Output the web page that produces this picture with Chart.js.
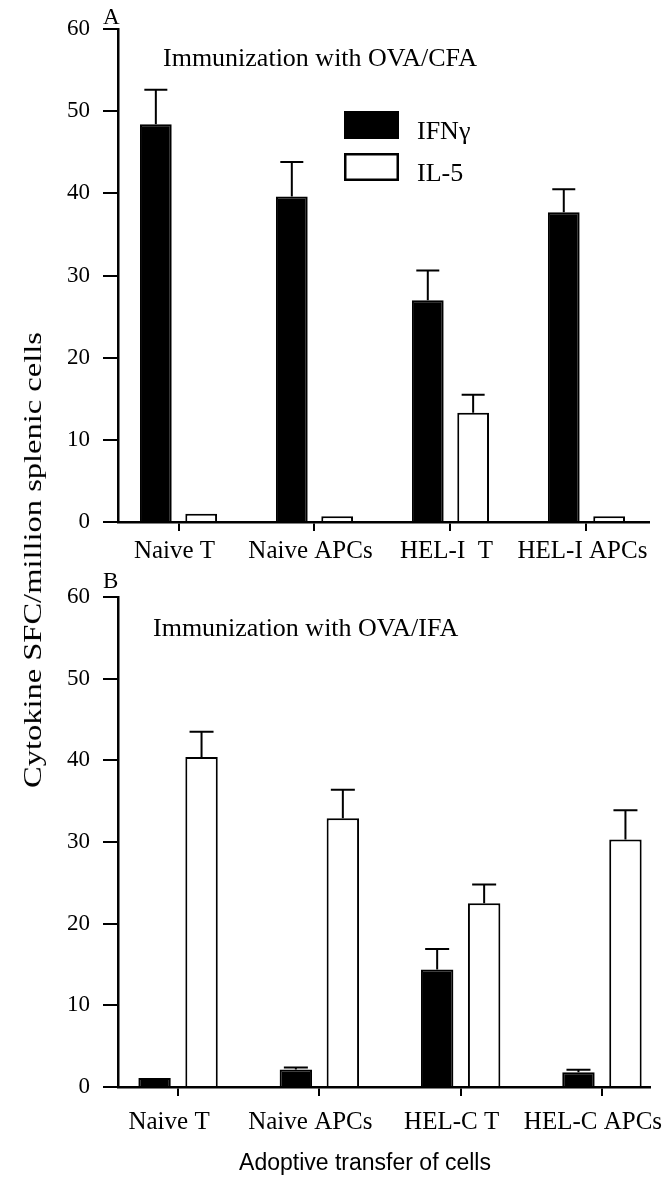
<!DOCTYPE html>
<html>
<head>
<meta charset="utf-8">
<script src="https://cdn.jsdelivr.net/npm/chart.js@4.4.1/dist/chart.umd.min.js"></script>
<style>
html, body { margin: 0; padding: 0; background: #fff; }
#wrap { position: relative; width: 665px; height: 1179px; overflow: hidden; background: #fff; }
canvas { position: absolute; left: 0; }
#ytitle {
  position: absolute; left: 33px; top: 560px;
  font-family: "Liberation Serif", "Times New Roman", serif; font-size: 26px;
  white-space: nowrap; color: #000; line-height: 1;
  transform: translate(-50%, -50%) rotate(-90deg) scaleX(1.25);
}
</style>
</head>
<body>
<div id="wrap">
  <canvas id="chartA" width="665" height="570" style="top:0px"></canvas>
  <canvas id="chartB" width="665" height="609" style="top:570px"></canvas>
  <div id="ytitle">Cytokine SFC/million splenic cells</div>
</div>
<script>
// ---------- data ----------
const seriesNames = ['IFN\u03b3', 'IL-5'];
const yTickValues = [0, 10, 20, 30, 40, 50, 60];

const categoriesA = ['Naive T', 'Naive APCs', 'HEL-I  T', 'HEL-I APCs'];
const ifnA    = [48.4, 39.6, 27.0, 37.7];
const ifnAErr = [4.2, 4.2, 3.6, 2.8];
const il5A    = [1.0, 0.7, 13.3, 0.7];
const il5AErr = [0, 0, 2.2, 0];

const categoriesB = ['Naive T', 'Naive APCs', 'HEL-C T', 'HEL-C APCs'];
const ifnB    = [1.1, 2.15, 14.4, 1.8];
const ifnBErr = [0, 0.25, 2.5, 0.3];
const il5B    = [40.4, 32.9, 22.5, 30.3];
const il5BErr = [3.1, 3.5, 2.3, 3.6];

const titleA = 'Immunization with OVA/CFA';
const titleB = 'Immunization with OVA/IFA';
const xAxisTitle = 'Adoptive transfer of cells';

// ---------- helpers ----------
const SERIF = '"Liberation Serif", "Times New Roman", serif';
const SANS = '"Liberation Sans", Arial, sans-serif';

function points(values) { return values.map((v, i) => ({ x: i + 0.5, y: v })); }

function decorPlugin(opts) {
  return {
    id: 'decor' + opts.letter,
    afterDatasetsDraw(chart) {
      const ctx = chart.ctx;
      const ys = chart.scales.y;
      // error bars (upper only)
      chart.data.datasets.forEach((ds, di) => {
        const meta = chart.getDatasetMeta(di);
        meta.data.forEach((bar, i) => {
          const err = ds.errors[i];
          if (!err) return;
          const v = ds.data[i].y;
          const yTop = ys.getPixelForValue(v + err);
          const yBar = ys.getPixelForValue(v);
          ctx.save();
          ctx.strokeStyle = '#000';
          ctx.lineWidth = 2;
          ctx.beginPath();
          ctx.moveTo(bar.x, yBar);
          ctx.lineTo(bar.x, yTop);
          ctx.moveTo(bar.x - opts.capW / 2, yTop);
          ctx.lineTo(bar.x + opts.capW / 2, yTop);
          ctx.stroke();
          ctx.restore();
        });
      });
      ctx.save();
      ctx.fillStyle = '#000';
      ctx.textBaseline = 'alphabetic';
      ctx.textAlign = 'left';
      // panel letter
      ctx.font = '23px ' + SERIF;
      ctx.fillText(opts.letter, opts.letterX, opts.letterY);
      // subtitle
      ctx.font = '26px ' + SERIF;
      ctx.fillText(opts.subtitle, opts.subX, opts.subY);
      // legend
      if (opts.legend) {
        const L = opts.legend;
        chart.data.datasets.forEach((ds, di) => {
          const top = L.y + di * L.step;
          ctx.fillStyle = ds.backgroundColor;
          ctx.fillRect(L.x, top, L.w, L.h);
          ctx.strokeStyle = '#000';
          ctx.lineWidth = 2.5;
          ctx.strokeRect(L.x + 1.25, top + 1.25, L.w - 2.5, L.h - 2.5);
          ctx.fillStyle = '#000';
          ctx.font = '26px ' + SERIF;
          ctx.fillText(ds.label, L.textX, top + L.h);
        });
      }
      // x axis title
      if (opts.xTitle) {
        ctx.font = '23px ' + SANS;
        ctx.textAlign = 'center';
        ctx.fillText(opts.xTitle, opts.xTitleX, opts.xTitleY);
      }
      ctx.restore();
    }
  };
}

function makeChart(canvasId, p) {
  const boundaries = p.categories.slice(1).map((_, i) => i + 1);
  const centers = p.categories.map((_, i) => i + 0.5);
  return new Chart(document.getElementById(canvasId), {
    type: 'bar',
    data: {
      datasets: [
        { label: seriesNames[0], data: points(p.ifn), errors: p.ifnErr,
          backgroundColor: '#000000', borderColor: '#000000', borderWidth: 2,
          xAxisID: 'x', yAxisID: 'y' },
        { label: seriesNames[1], data: points(p.il5), errors: p.il5Err,
          backgroundColor: '#ffffff', borderColor: '#000000', borderWidth: 2,
          xAxisID: 'x', yAxisID: 'y' }
      ]
    },
    options: {
      responsive: false,
      animation: false,
      devicePixelRatio: 1,
      events: [],
      categoryPercentage: p.catPct,
      barPercentage: p.barPct,
      layout: { padding: { left: 0, right: p.padRight, top: p.padTop, bottom: 0 } },
      plugins: { legend: { display: false }, tooltip: { enabled: false }, title: { display: false } },
      scales: {
        x: {
          type: 'linear', position: 'bottom', min: p.xMin, max: p.xMax, offset: false, weight: 0,
          afterBuildTicks: s => { s.ticks = boundaries.map(v => ({ value: v })); },
          ticks: { display: false },
          grid: { drawOnChartArea: false, drawTicks: true, tickLength: 9, color: '#000', lineWidth: 2 },
          border: { color: '#000', width: 2.5 },
          afterFit: s => { s.height = 12; s.paddingLeft = 0; s.paddingRight = 0; }
        },
        x2: {
          type: 'linear', position: 'bottom', min: p.xMin, max: p.xMax, offset: false, weight: 1,
          afterBuildTicks: s => { s.ticks = centers.map(v => ({ value: v })); },
          ticks: {
            autoSkip: false, maxRotation: 0, minRotation: 0, padding: p.labelPad,
            labelOffset: p.labelOffset, color: '#000',
            font: { family: SERIF, size: 25 },
            callback: (v, idx) => p.categories[idx]
          },
          grid: { display: false, drawTicks: false },
          border: { display: false },
          afterFit: s => { s.height = p.labelBand; s.paddingLeft = 0; s.paddingRight = 0; }
        },
        y: {
          type: 'linear', min: 0, max: 60,
          afterBuildTicks: s => { s.ticks = yTickValues.map(v => ({ value: v })); },
          ticks: { color: '#000', font: { family: SERIF, size: 23 }, padding: 13 },
          grid: { drawOnChartArea: false, drawTicks: true, tickLength: 15, color: '#000', lineWidth: 2 },
          border: { color: '#000', width: 2.5 },
          afterFit: s => { s.width = 118; s.paddingTop = 0; s.paddingBottom = 0; }
        }
      }
    },
    plugins: [decorPlugin(p.decor)]
  });
}

makeChart('chartA', {
  categories: categoriesA, ifn: ifnA, ifnErr: ifnAErr, il5: il5A, il5Err: il5AErr,
  xMin: 0.055, xMax: 3.96, catPct: 0.667, barPct: 0.7,
  padRight: 16, padTop: 29, labelPad: 2, labelOffset: -4, labelBand: 36,
  decor: {
    letter: 'A', letterX: 103, letterY: 24, capW: 23,
    subtitle: titleA, subX: 163, subY: 66,
    legend: { x: 344, y: 111, w: 55, h: 28, step: 42, textX: 417 }
  }
});

makeChart('chartB', {
  categories: categoriesB, ifn: ifnB, ifnErr: ifnBErr, il5: il5B, il5Err: il5BErr,
  xMin: 0.075, xMax: 3.84, catPct: 0.665, barPct: 0.69,
  padRight: 15, padTop: 27, labelPad: 8, labelOffset: -9, labelBand: 80,
  decor: {
    letter: 'B', letterX: 103, letterY: 18, capW: 24,
    subtitle: titleB, subX: 153, subY: 66,
    xTitle: xAxisTitle, xTitleX: 365, xTitleY: 600
  }
});
</script>
</body>
</html>
